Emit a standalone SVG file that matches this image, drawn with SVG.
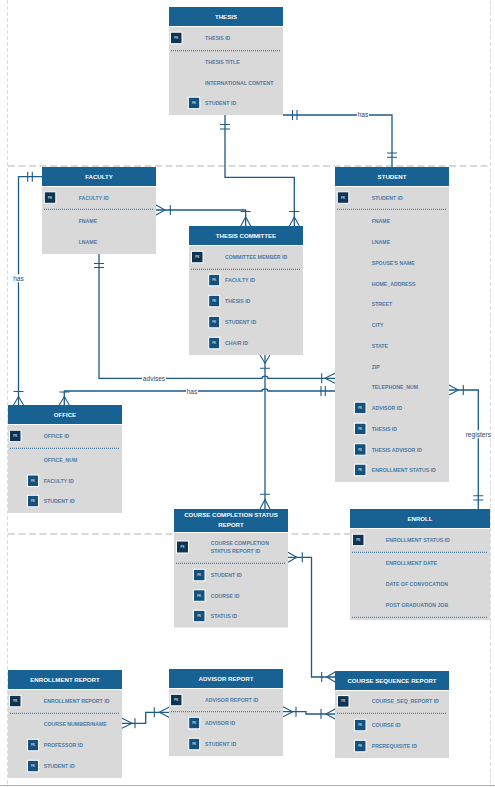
<svg xmlns="http://www.w3.org/2000/svg" width="495" height="787" viewBox="0 0 495 787">
<style>
.hd{fill:#176193}
.bd{fill:#d9d9d9}
.ht{font-family:"Liberation Sans",Arial,sans-serif;font-size:6.1px;font-weight:bold;fill:#fff;text-anchor:middle;dominant-baseline:central}
.rt{font-family:"Liberation Sans",Arial,sans-serif;font-size:5.2px;font-weight:bold;fill:#4d7ba6;dominant-baseline:central}
.sep{stroke:#2d6391;stroke-width:1;stroke-dasharray:1 1;fill:none}
.pk{fill:#0e3454;stroke:#fff;stroke-width:1}
.fk{fill:#15507c;stroke:#fff;stroke-width:1}
.it{font-family:"Liberation Sans",Arial,sans-serif;font-size:3px;font-weight:bold;fill:#c5d3e0;text-anchor:middle;dominant-baseline:central}
.cn{fill:none;stroke:#1c5a8a;stroke-width:1.3}
.ce{fill:none;stroke:#1c5a8a;stroke-width:1.1}
.lb{font-family:"Liberation Sans",Arial,sans-serif;font-size:6.6px;fill:#274a6d;text-anchor:middle;dominant-baseline:central}
.lbg{fill:#fff}
.gd{stroke:#b3b3b3;stroke-width:1;stroke-dasharray:7 3.5;fill:none}
.gv{stroke:#dcdcdc;stroke-width:1;stroke-dasharray:4 2;fill:none}
</style>
<rect width="495" height="787" fill="#fff"/>
<g id="page">
<line class="gv" x1="7.5" y1="0" x2="7.5" y2="787"/>
<line class="gv" x1="490.5" y1="0" x2="490.5" y2="787"/>
<line class="gd" x1="8" y1="166" x2="490" y2="166"/>
<line class="gd" x1="8" y1="534" x2="490" y2="534"/>
<line x1="0" y1="785.5" x2="495" y2="785.5" stroke="#b0b0b0" stroke-width="1.2"/>
</g>

<g id="connectors">
<!-- thesis - committee -->
<path class="cn" d="M225,115 V177.3 H294.3 V226"/>
<path class="ce" d="M220,124.5 H230 M220,129 H230 M289.3,211.5 H299.3 M289.3,226 L294.3,217 L299.3,226"/>
<!-- thesis - student -->
<path class="cn" d="M283,115 H392 V167"/>
<path class="ce" d="M292.5,110 V120 M297,110 V120 M387,153 H397 M387,157.3 H397"/>
<!-- faculty - committee -->
<path class="cn" d="M156,210 H245.7 V226"/>
<path class="ce" d="M156,205 L165,210 L156,215 M170.3,205 V215 M240.7,211.5 H250.7 M240.7,226 L245.7,217 L250.7,226"/>
<!-- faculty - office -->
<path class="cn" d="M42,176.7 H18.5 V405"/>
<path class="ce" d="M27.7,171.7 V181.7 M32.3,171.7 V181.7 M13.5,391.5 H23.5 M13.5,405 L18.5,396.5 L23.5,405"/>
<!-- faculty - student advises -->
<path class="cn" d="M99,254 V378.3 H262 A3,2.2 0 0 1 268,378.3 H335"/>
<path class="ce" d="M94,263.5 H104 M94,267.5 H104 M321.7,373.3 V383.3 M335,373.3 L325,378.3 L335,383.3"/>
<!-- office - student has -->
<path class="cn" d="M64.3,405 V391 H262 A3,2.2 0 0 1 268,391 H335"/>
<path class="ce" d="M59.3,392 H69.3 M59.3,405 L64.3,396.5 L69.3,405 M321,386 V396 M325.3,386 V396"/>
<!-- committee - ccsr -->
<path class="cn" d="M265,355 V509"/>
<path class="ce" d="M260,355 L265,363.3 L270,355 M260,368.3 H270 M260,494.3 H270 M260,509 L265,499.5 L270,509"/>
<!-- student - enroll -->
<path class="cn" d="M449,390 H478.3 V509"/>
<path class="ce" d="M449,385 L458.3,390 L449,395 M463.3,385 V395 M473.3,495.7 H483.3 M473.3,500 H483.3"/>
<!-- ccsr - course seq -->
<path class="cn" d="M288,557.3 H311.5 V677 H335"/>
<path class="ce" d="M288,552.3 L296.7,557.3 L288,562.3 M302.3,552.3 V562.3 M321.7,672 V682 M335,672 L326.7,677 L335,682"/>
<!-- enrollment report - advisor report -->
<path class="cn" d="M122,723.3 H145.7 V712.3 H169"/>
<path class="ce" d="M122,718.3 L132,723.3 L122,728.3 M135,718.3 V728.3 M154.3,707.3 V717.3 M169,707.3 L159.3,712.3 L169,717.3"/>
<!-- advisor report - course seq -->
<path class="cn" d="M283,711.7 H306 V714 H335"/>
<path class="ce" d="M283,706.7 L292.7,711.7 L283,716.7 M296,706.7 V716.7 M321,709 V719 M335,709 L326,714 L335,719"/>
<!-- labels -->
<rect class="lbg" x="357" y="110.5" width="12" height="8"/>
<text class="lb" x="363" y="114.5">has</text>
<rect class="lbg" x="12.5" y="274.3" width="12" height="8"/>
<text class="lb" x="18.5" y="278.3">has</text>
<rect class="lbg" x="142" y="374.3" width="24" height="8"/>
<text class="lb" x="154" y="378.3">advises</text>
<rect class="lbg" x="186" y="387" width="12" height="8"/>
<text class="lb" x="192" y="391">has</text>
<rect class="lbg" x="464.5" y="430.3" width="27" height="8"/>
<text class="lb" x="478.3" y="434.3">registers</text>
</g>

<g id="thesis">
<rect class="hd" x="169" y="7" width="114" height="19"/>
<rect class="bd" x="169" y="27" width="114" height="88"/>
<text class="ht" x="226" y="16.5">THESIS</text>
<rect class="pk" x="170.5" y="32.2" width="11.5" height="11.5"/><text class="it" x="176.25" y="38">PK</text>
<text class="rt" x="205" y="38">THESIS ID</text>
<line class="sep" x1="171" y1="50.7" x2="281" y2="50.7"/>
<text class="rt" x="205" y="62">THESIS TITLE</text>
<text class="rt" x="205" y="83">INTERNATIONAL CONTENT</text>
<rect class="fk" x="188.3" y="97.2" width="11.5" height="11.5"/><text class="it" x="194" y="103">FK</text>
<text class="rt" x="205" y="103">STUDENT ID</text>
</g>

<g id="faculty">
<rect class="hd" x="42" y="167" width="114" height="19"/>
<rect class="bd" x="42" y="187" width="114" height="67"/>
<text class="ht" x="99" y="176.5">FACULTY</text>
<rect class="pk" x="44.3" y="191.8" width="11.5" height="11.5"/><text class="it" x="50" y="197.5">PK</text>
<text class="rt" x="78.7" y="197.5">FACULTY ID</text>
<line class="sep" x1="44" y1="209.3" x2="154" y2="209.3"/>
<text class="rt" x="78.7" y="221">FNAME</text>
<text class="rt" x="78.7" y="242">LNAME</text>
</g>

<g id="thesis-committee">
<rect class="hd" x="189" y="226" width="114" height="19"/>
<rect class="bd" x="189" y="246" width="114" height="109"/>
<text class="ht" x="246" y="235.5">THESIS COMMITTEE</text>
<rect class="pk" x="191.5" y="251.3" width="11.5" height="11.5"/><text class="it" x="197.25" y="257">PK</text>
<text class="rt" x="225" y="257">COMMITTEE MEMBER ID</text>
<line class="sep" x1="191" y1="269.3" x2="301" y2="269.3"/>
<rect class="fk" x="208.7" y="274.3" width="11" height="11.5"/><text class="it" x="214.2" y="280">FK</text>
<text class="rt" x="225" y="280">FACULTY ID</text>
<rect class="fk" x="208.7" y="295.3" width="11" height="11.5"/><text class="it" x="214.2" y="301">FK</text>
<text class="rt" x="225" y="301">THESIS ID</text>
<rect class="fk" x="208.7" y="316.3" width="11" height="11.5"/><text class="it" x="214.2" y="322">FK</text>
<text class="rt" x="225" y="322">STUDENT ID</text>
<rect class="fk" x="208.7" y="337.3" width="11" height="11.5"/><text class="it" x="214.2" y="343">FK</text>
<text class="rt" x="225" y="343">CHAIR ID</text>
</g>

<g id="student">
<rect class="hd" x="335" y="167" width="114" height="19"/>
<rect class="bd" x="335" y="187" width="114" height="295"/>
<text class="ht" x="392" y="176.5">STUDENT</text>
<rect class="pk" x="337.3" y="191.8" width="11.5" height="11.5"/><text class="it" x="343" y="197.5">PK</text>
<text class="rt" x="371.7" y="197.5">STUDENT ID</text>
<line class="sep" x1="337" y1="209.3" x2="447" y2="209.3"/>
<text class="rt" x="371.7" y="221">FNAME</text>
<text class="rt" x="371.7" y="242">LNAME</text>
<text class="rt" x="371.7" y="262.7">SPOUSE'S NAME</text>
<text class="rt" x="371.7" y="283.5">HOME_ADDRESS</text>
<text class="rt" x="371.7" y="304.3">STREET</text>
<text class="rt" x="371.7" y="325">CITY</text>
<text class="rt" x="371.7" y="346">STATE</text>
<text class="rt" x="371.7" y="366.5">ZIP</text>
<text class="rt" x="371.7" y="387.3">TELEPHONE_NUM</text>
<rect class="fk" x="354.5" y="402.2" width="11.5" height="11.5"/><text class="it" x="360.25" y="408">FK</text>
<text class="rt" x="371.7" y="408">ADVISOR ID</text>
<rect class="fk" x="354.5" y="423.2" width="11.5" height="11.5"/><text class="it" x="360.25" y="429">FK</text>
<text class="rt" x="371.7" y="429">THESIS ID</text>
<rect class="fk" x="354.5" y="443.7" width="11.5" height="11.5"/><text class="it" x="360.25" y="449.5">FK</text>
<text class="rt" x="371.7" y="449.5">THESIS ADVISOR ID</text>
<rect class="fk" x="354.5" y="464.2" width="11.5" height="11.5"/><text class="it" x="360.25" y="470">FK</text>
<text class="rt" x="371.7" y="470">ENROLLMENT STATUS ID</text>
</g>

<g id="office">
<rect class="hd" x="8" y="405" width="114" height="19"/>
<rect class="bd" x="8" y="425" width="114" height="88"/>
<text class="ht" x="65" y="414.5">OFFICE</text>
<rect class="pk" x="9.5" y="430.2" width="11.5" height="11.5"/><text class="it" x="15.25" y="436">PK</text>
<text class="rt" x="43.7" y="436">OFFICE ID</text>
<line class="sep" x1="10" y1="448.3" x2="120" y2="448.3"/>
<text class="rt" x="43.7" y="460">OFFICE_NUM</text>
<rect class="fk" x="27.5" y="475" width="11" height="11.5"/><text class="it" x="33" y="480.7">FK</text>
<text class="rt" x="43.7" y="480.7">FACULTY ID</text>
<rect class="fk" x="27.5" y="495.3" width="11" height="11.5"/><text class="it" x="33" y="501">FK</text>
<text class="rt" x="43.7" y="501">STUDENT ID</text>
</g>

<g id="course-completion-status-report">
<rect class="hd" x="174" y="509" width="114" height="23"/>
<rect class="bd" x="174" y="533" width="114" height="94.5"/>
<text class="ht" x="231" y="514.8">COURSE COMPLETION STATUS</text>
<text class="ht" x="231" y="524.4">REPORT</text>
<rect class="pk" x="176.5" y="541" width="12" height="12"/><text class="it" x="182.5" y="547">PK</text>
<text class="rt" x="210.7" y="543.3">COURSE COMPLETION</text>
<text class="rt" x="210.7" y="551.3">STATUS REPORT ID</text>
<line class="sep" x1="176" y1="563.3" x2="286" y2="563.3"/>
<rect class="fk" x="193.5" y="569.3" width="11.5" height="11.5"/><text class="it" x="199.25" y="575">FK</text>
<text class="rt" x="210.7" y="575">STUDENT ID</text>
<rect class="fk" x="193.5" y="589.8" width="11.5" height="11.5"/><text class="it" x="199.25" y="595.5">FK</text>
<text class="rt" x="210.7" y="595.5">COURSE ID</text>
<rect class="fk" x="193.5" y="610.3" width="11.5" height="11.5"/><text class="it" x="199.25" y="616">FK</text>
<text class="rt" x="210.7" y="616">STATUS ID</text>
</g>

<g id="enroll">
<rect class="hd" x="350" y="509" width="140" height="19"/>
<rect class="bd" x="350" y="529" width="140" height="91"/>
<text class="ht" x="420" y="518.5">ENROLL</text>
<rect class="pk" x="352.5" y="534.2" width="11.5" height="11.5"/><text class="it" x="358.25" y="540">PK</text>
<text class="rt" x="385.7" y="540">ENROLLMENT STATUS ID</text>
<line class="sep" x1="352" y1="552.3" x2="488" y2="552.3"/>
<text class="rt" x="385.7" y="562.7">ENROLLMENT DATE</text>
<text class="rt" x="385.7" y="583.7">DATE OF CONVOCATION</text>
<text class="rt" x="385.7" y="605">POST GRADUATION JOB</text>
<line class="sep" x1="352" y1="617.3" x2="488" y2="617.3"/>
</g>

<g id="enrollment-report">
<rect class="hd" x="8" y="670" width="114" height="19"/>
<rect class="bd" x="8" y="690" width="114" height="88"/>
<text class="ht" x="65" y="679.5">ENROLLMENT REPORT</text>
<rect class="pk" x="9.5" y="695.3" width="11.5" height="11.5"/><text class="it" x="15.25" y="701">PK</text>
<text class="rt" x="43.7" y="701">ENROLLMENT REPORT ID</text>
<line class="sep" x1="10" y1="713.3" x2="120" y2="713.3"/>
<text class="rt" x="43.7" y="724">COURSE NUMBER/NAME</text>
<rect class="fk" x="27.5" y="739.3" width="11" height="11.5"/><text class="it" x="33" y="745">FK</text>
<text class="rt" x="43.7" y="745">PROFESSOR ID</text>
<rect class="fk" x="27.5" y="760.3" width="11" height="11.5"/><text class="it" x="33" y="766">FK</text>
<text class="rt" x="43.7" y="766">STUDENT ID</text>
</g>

<g id="advisor-report">
<rect class="hd" x="169" y="669" width="114" height="19"/>
<rect class="bd" x="169" y="689" width="114" height="67"/>
<text class="ht" x="226" y="678">ADVISOR REPORT</text>
<rect class="pk" x="170.5" y="694.3" width="11.5" height="11.5"/><text class="it" x="176.25" y="700">PK</text>
<text class="rt" x="205" y="700">ADVISOR REPORT ID</text>
<line class="sep" x1="171" y1="711.7" x2="281" y2="711.7"/>
<rect class="fk" x="188.7" y="717.3" width="11" height="11.5"/><text class="it" x="194.2" y="723">FK</text>
<text class="rt" x="205" y="723">ADVISOR ID</text>
<rect class="fk" x="188.7" y="738.3" width="11" height="11.5"/><text class="it" x="194.2" y="744">FK</text>
<text class="rt" x="205" y="744">STUDENT ID</text>
</g>

<g id="course-sequence-report">
<rect class="hd" x="335" y="671" width="114" height="19"/>
<rect class="bd" x="335" y="691" width="114" height="67"/>
<text class="ht" x="392" y="680">COURSE SEQUENCE REPORT</text>
<rect class="pk" x="337.5" y="695.6" width="11.5" height="11.5"/><text class="it" x="343.25" y="701.3">PK</text>
<text class="rt" x="371.7" y="701.3">COURSE_SEQ_REPORT ID</text>
<line class="sep" x1="337" y1="713.3" x2="447" y2="713.3"/>
<rect class="fk" x="354.5" y="719.3" width="11.5" height="11.5"/><text class="it" x="360.25" y="725">FK</text>
<text class="rt" x="371.7" y="725">COURSE ID</text>
<rect class="fk" x="354.5" y="740.3" width="11.5" height="11.5"/><text class="it" x="360.25" y="746">FK</text>
<text class="rt" x="371.7" y="746">PREREQUISITE ID</text>
</g>
</svg>
